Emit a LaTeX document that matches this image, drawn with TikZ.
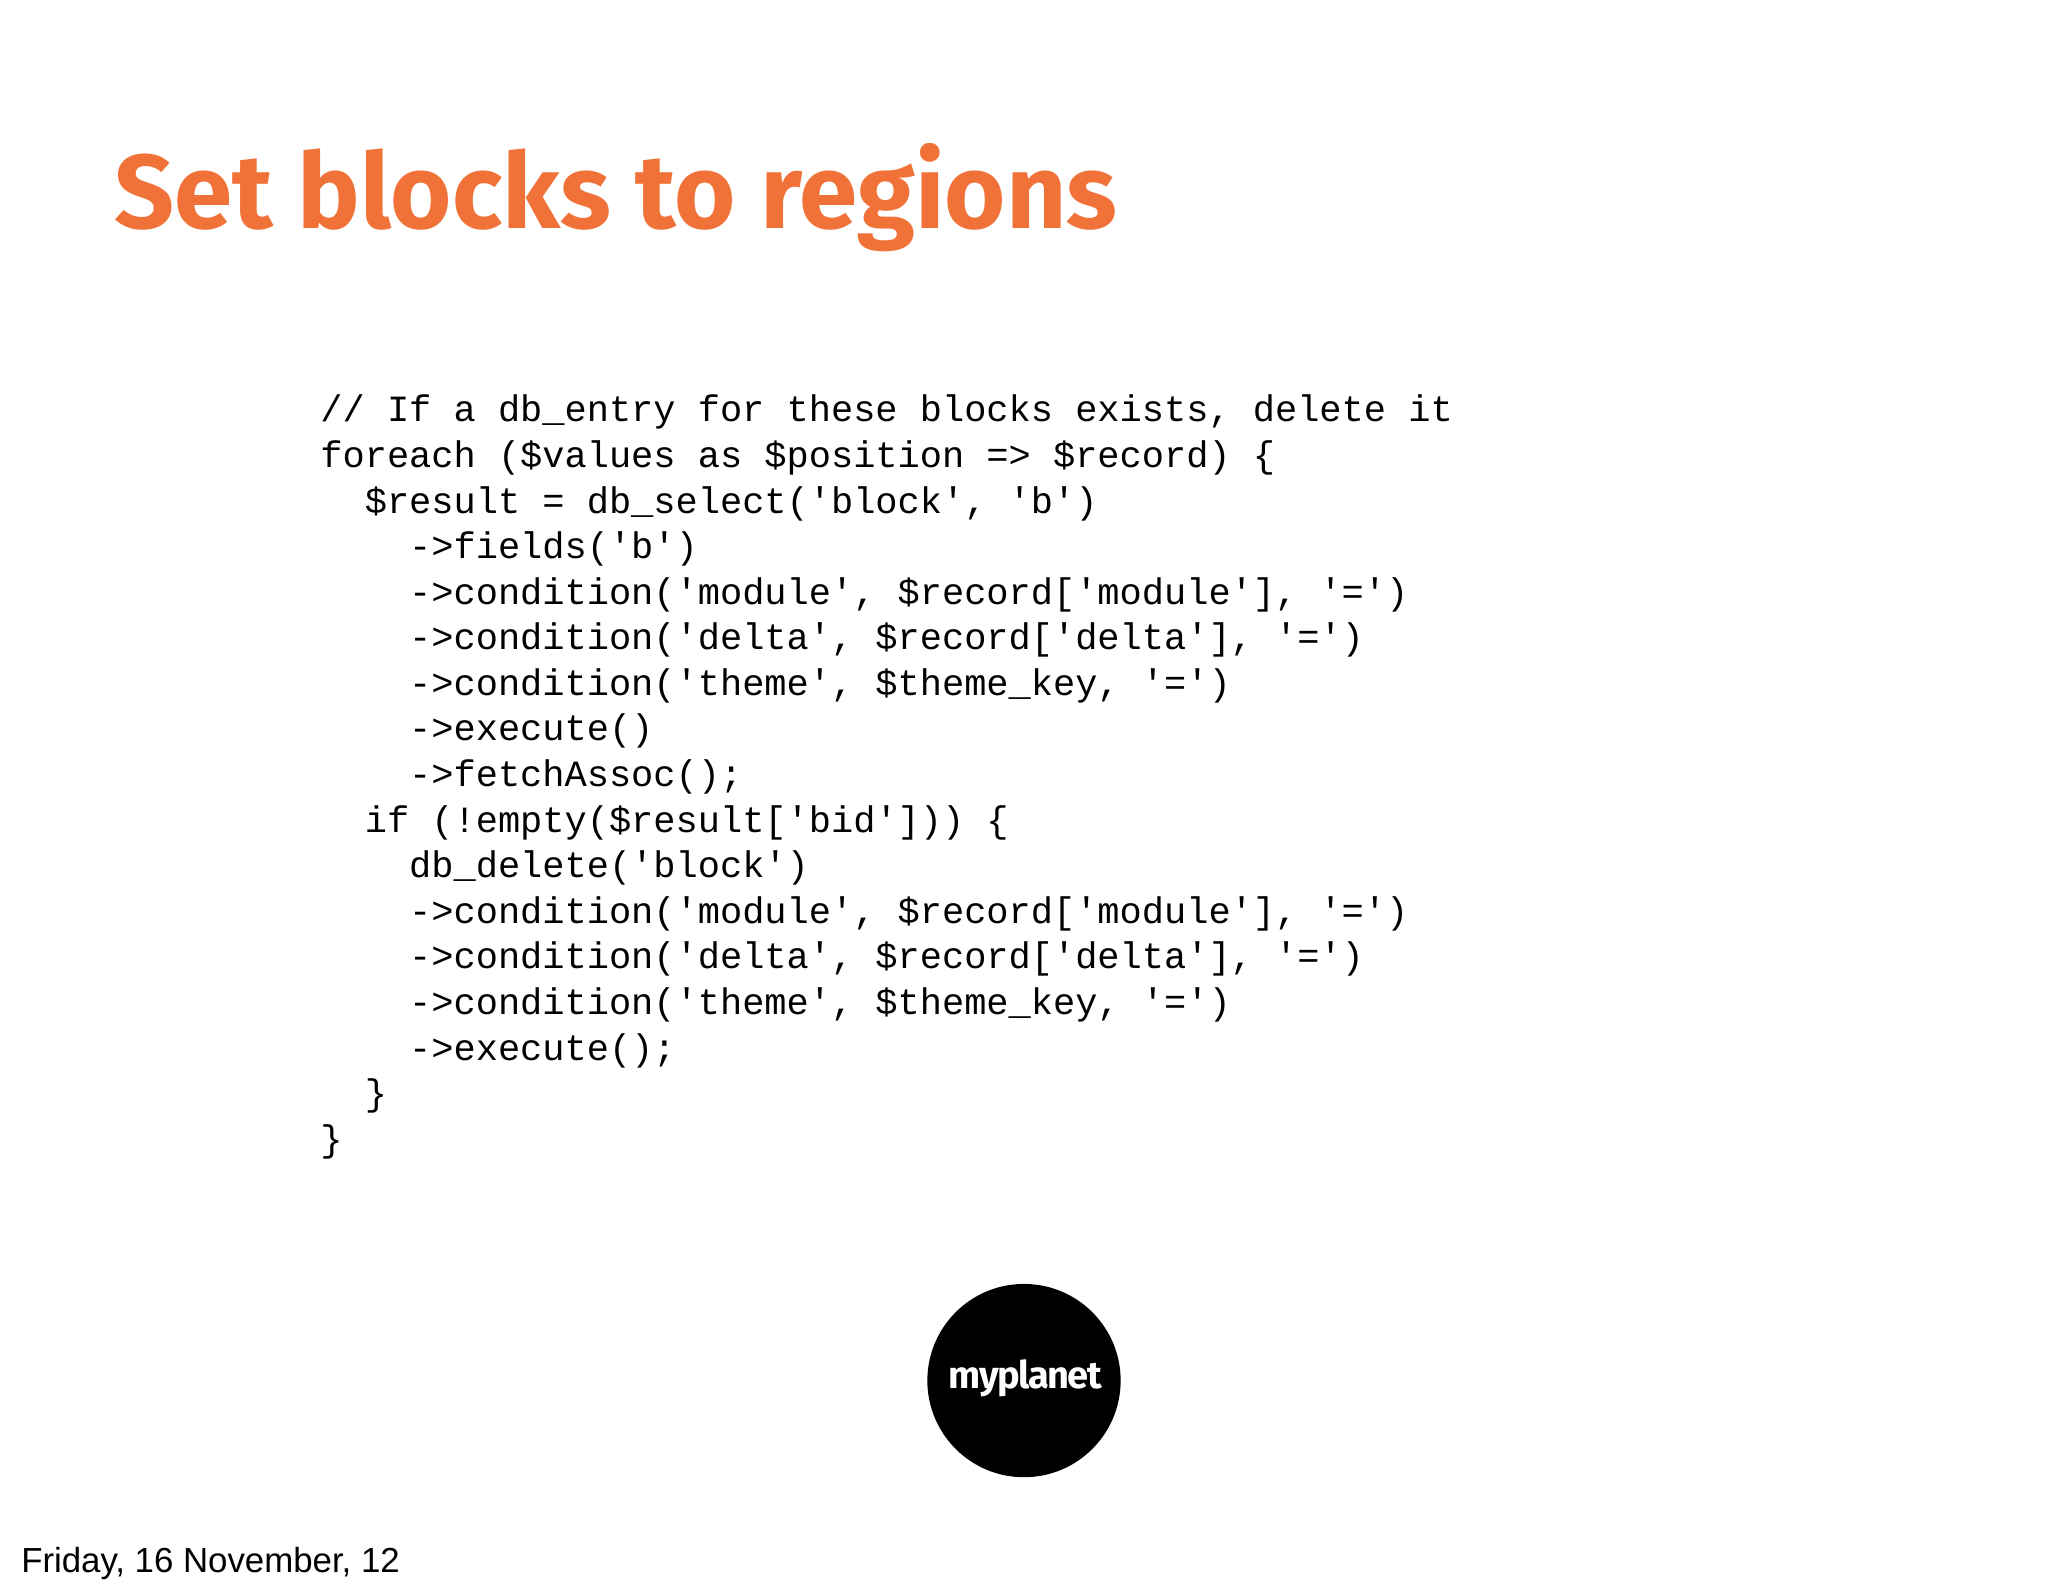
\documentclass[tikz,border=0pt]{standalone}
\usepackage{fontspec}
\newfontfamily\codefont{Liberation Mono}
\newfontfamily\titlefont{Fira Sans}
\newfontfamily\footfont{Liberation Sans}
\definecolor{titleorange}{HTML}{F07238}
\begin{document}
\begin{tikzpicture}[x=0.653pt,y=-0.653pt,
  code/.style={anchor=base west,inner sep=0pt,font=\codefont\fontsize{18.5pt}{22pt}\selectfont}]
\useasboundingbox (0,0) rectangle (1568,1220);
\fill[white] (0,0) rectangle (1568,1220);
\node[anchor=base west,inner sep=0pt,text=titleorange,font=\titlefont\bfseries\fontsize{52.5pt}{60pt}\selectfont] (title) at (87,175) {Set blocks to regions};
\def\dy{34.9}
\node[code] (l1) at (245,323) {// If a db\_entry for these blocks exists, delete it};
\node[code] (l2) at (245,323+1*\dy) {foreach (\$values as \$position => \$record) \{};
\node[code] (l3) at (245,323+2*\dy) {\ \ \$result = db\_select('block', 'b')};
\node[code] (l4) at (245,323+3*\dy) {\ \ \ \ ->fields('b')};
\node[code] (l5) at (245,323+4*\dy) {\ \ \ \ ->condition('module', \$record['module'], '=')};
\node[code] (l6) at (245,323+5*\dy) {\ \ \ \ ->condition('delta', \$record['delta'], '=')};
\node[code] (l7) at (245,323+6*\dy) {\ \ \ \ ->condition('theme', \$theme\_key, '=')};
\node[code] (l8) at (245,323+7*\dy) {\ \ \ \ ->execute()};
\node[code] (l9) at (245,323+8*\dy) {\ \ \ \ ->fetchAssoc();};
\node[code] (l10) at (245,323+9*\dy) {\ \ if (!empty(\$result['bid'])) \{};
\node[code] (l11) at (245,323+10*\dy) {\ \ \ \ db\_delete('block')};
\node[code] (l12) at (245,323+11*\dy) {\ \ \ \ ->condition('module', \$record['module'], '=')};
\node[code] (l13) at (245,323+12*\dy) {\ \ \ \ ->condition('delta', \$record['delta'], '=')};
\node[code] (l14) at (245,323+13*\dy) {\ \ \ \ ->condition('theme', \$theme\_key, '=')};
\node[code] (l15) at (245,323+14*\dy) {\ \ \ \ ->execute();};
\node[code] (l16) at (245,323+15*\dy) {\ \ \}};
\node[code] (l17) at (245,323+16*\dy) {\}};
\fill[black] (784,1057) circle[radius=74*0.653pt];
\node[text=white,inner sep=0pt,font=\titlefont\bfseries\fontsize{19pt}{22pt}\selectfont] (logo) at (785,1055) {\addfontfeature{LetterSpace=-4}myplanet};
\node[anchor=base west,inner sep=0pt,font=\footfont\fontsize{17.4pt}{20pt}\selectfont] (foot) at (16,1204) {Friday, 16 November, 12};
\end{tikzpicture}
\end{document}
